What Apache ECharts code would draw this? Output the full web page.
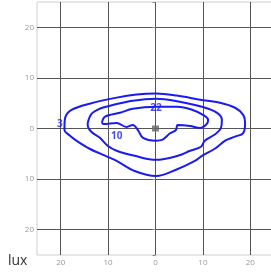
<!DOCTYPE html>
<html>
<head>
<meta charset="utf-8">
<script src="https://cdn.jsdelivr.net/npm/echarts@6/dist/echarts.min.js"></script>
<style>
  html, body { margin: 0; padding: 0; background: #fff; }
  #chart { width: 271px; height: 272px; }
</style>
</head>
<body>
<div id="chart"></div>
<script>
  // isolux contours, [x, y] in metres
  var contour3 = [
    [-19.2, 0.5], [-19.0, 2.3], [-17.7, 3.7], [-13.9, 4.9], [-8.2, 6.1], [-4.0, 6.7],
    [0.1, 6.9], [4.5, 6.5], [9.4, 5.7], [13.6, 5.1], [16.8, 4.1], [18.5, 2.7],
    [18.9, 1.1], [18.5, -0.9], [16.8, -1.6], [14.7, -2.4], [12.5, -4.0], [9.8, -5.4],
    [8.3, -6.4], [4.7, -8.0], [0.1, -9.4], [-4.4, -8.4], [-8.2, -6.4], [-10.1, -5.6],
    [-13.9, -4.0], [-16.7, -2.4], [-18.1, -1.4], [-19.2, -0.3], [-19.2, 0.5]
  ];
  var contour10 = [
    [-14.3, 1.1], [-13.5, 2.9], [-11.8, 3.9], [-9.6, 4.5], [-4.8, 5.5], [0.1, 5.9],
    [5.1, 5.3], [9.8, 4.3], [13.0, 3.1], [14.0, 1.7], [13.8, 0.1], [12.5, -1.2],
    [10.4, -2.4], [9.6, -3.6], [7.3, -4.4], [4.7, -5.4], [0.1, -6.2], [-4.4, -5.4],
    [-8.2, -4.4], [-10.1, -3.4], [-11.8, -1.8], [-13.5, -0.7], [-14.3, 0.7], [-14.3, 1.1]
  ];
  var contour22 = [
    [-11.3, 1.1], [-10.7, 2.3], [-7.5, 3.1], [-4.8, 3.9], [0.1, 4.3], [4.7, 4.3],
    [7.7, 3.7], [10.0, 2.7], [11.1, 1.7], [10.8, 0.9], [9.4, 0.1], [7.3, 0.5],
    [4.7, 0.7], [4.3, -0.3], [3.0, -1.0], [1.5, -2.2], [0.1, -2.4], [-2.7, -1.8],
    [-3.7, -0.3], [-4.8, 0.7], [-6.1, 0.3], [-8.2, 1.1], [-11.0, 0.9], [-11.3, 1.1]
  ];
  var levelLabels = [
    [-20.2, 0.9, '3'],
    [-8.2, -1.6, '10'],
    [0.1, 4.1, '22']
  ];
  var luminaire = [[0, 0]];
  var unitLabel = 'lux';

  var blue = '#1a1af2';
  var chart = echarts.init(document.getElementById('chart'));

  function absLabel(v) {
    if (Math.abs(v) > 24) return '';
    return String(Math.abs(v));
  }

  function contourSeries(pts) {
    return {
      type: 'line',
      data: pts,
      smooth: 0.35,
      symbol: 'none',
      silent: true,
      lineStyle: { color: blue, width: 2 }
    };
  }

  chart.setOption({
    animation: false,
    textStyle: { fontFamily: 'Open Sans, sans-serif' },
    grid: {
      left: 37, top: 2, width: 237, height: 253,
      outerBoundsMode: 'none', containLabel: false,
      show: true, borderColor: '#cfcfcf', borderWidth: 1
    },
    graphic: [{
      type: 'text', left: 8, top: 254,
      style: { text: unitLabel, font: '14px Open Sans, sans-serif', fill: '#333' }
    }],
    xAxis: {
      type: 'value', min: -25, max: 25, splitNumber: 5,
      axisLine: { show: false },
      axisTick: { show: false },
      axisLabel: { color: '#999', fontSize: 8, margin: 4, formatter: absLabel },
      splitLine: { show: true, showMinLine: false, showMaxLine: false, lineStyle: { color: '#555', width: 1 } }
    },
    yAxis: {
      type: 'value', min: -25, max: 25, splitNumber: 5,
      axisLine: { show: false },
      axisTick: { show: true, length: 3, lineStyle: { color: '#888' } },
      axisLabel: { color: '#999', fontSize: 8, margin: 3, formatter: absLabel },
      splitLine: { show: true, showMinLine: false, showMaxLine: false, lineStyle: { color: '#555', width: 1 } }
    },
    series: [
      contourSeries(contour3),
      contourSeries(contour10),
      contourSeries(contour22),
      {
        type: 'scatter',
        data: luminaire,
        symbol: 'rect',
        symbolSize: [7, 6],
        silent: true,
        itemStyle: { color: '#666' }
      },
      {
        type: 'scatter',
        data: levelLabels,
        symbolSize: 0,
        silent: true,
        label: {
          show: true, position: 'inside',
          formatter: function (p) { return p.data[2]; },
          color: blue, fontSize: 10, fontWeight: 'bold'
        }
      }
    ]
  });
</script>
</body>
</html>
